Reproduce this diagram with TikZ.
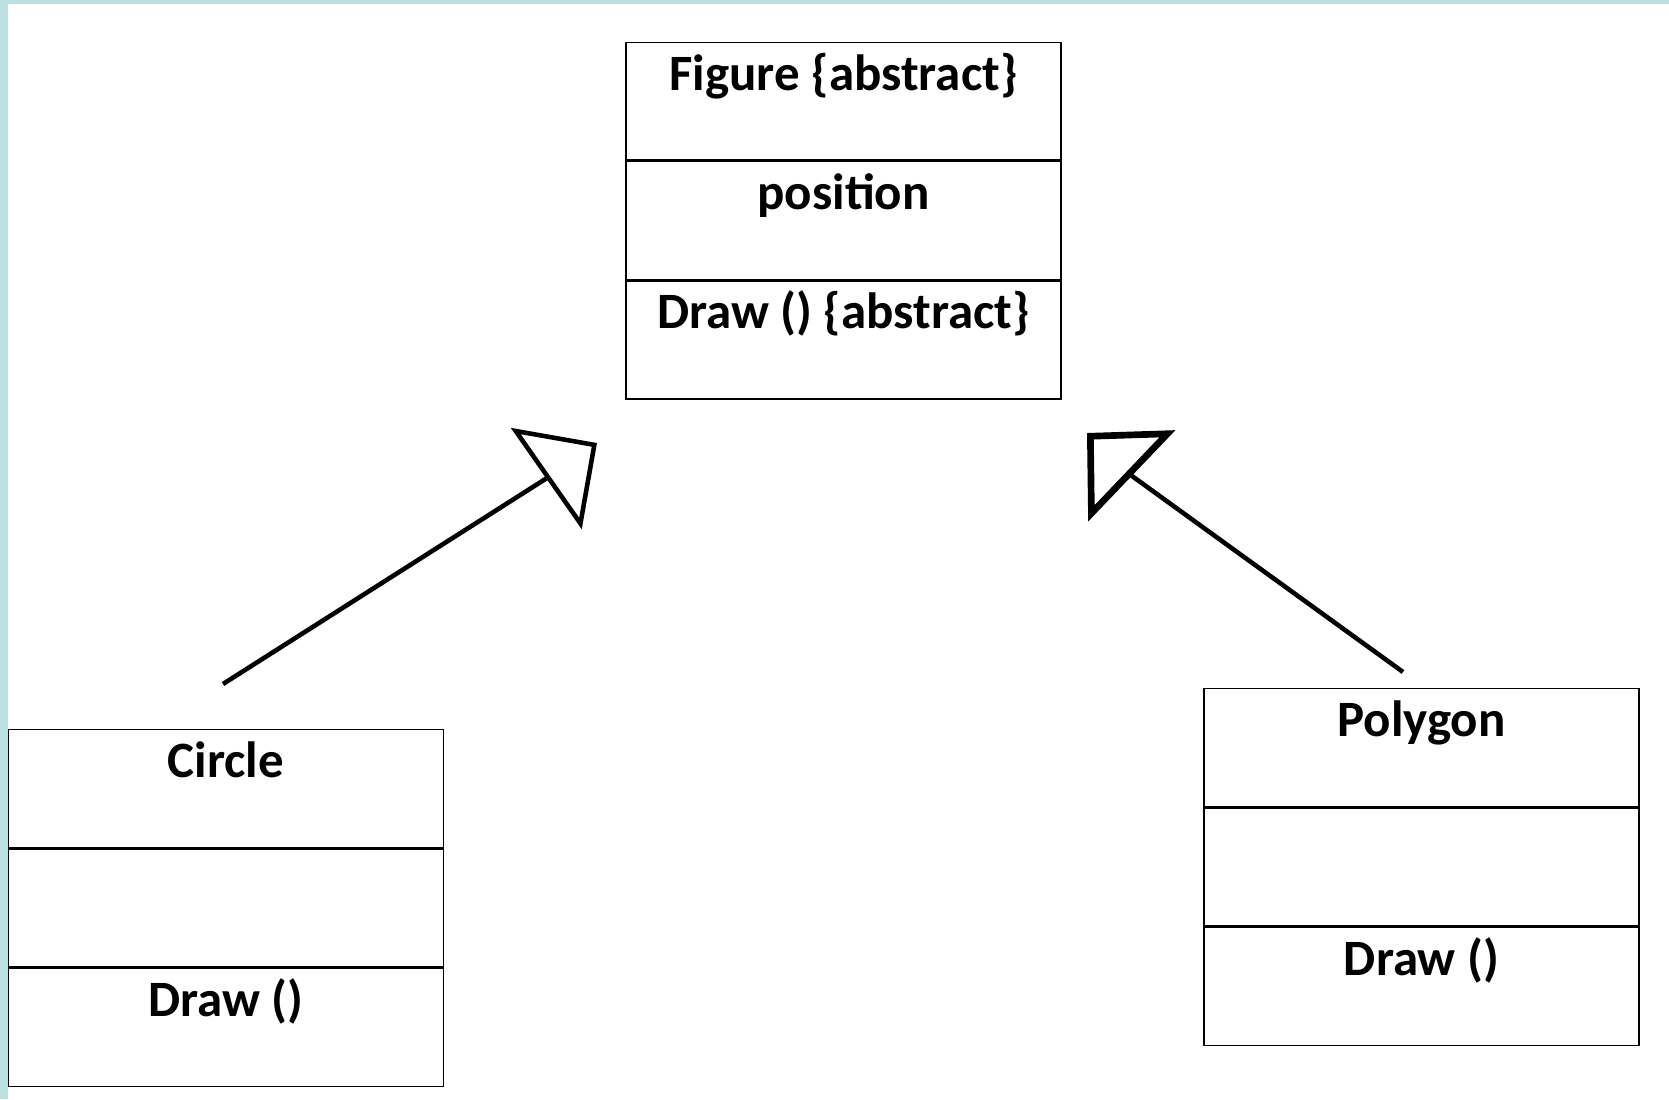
\documentclass[tikz,border=0pt]{standalone}
\usepackage{fontspec}
\setmainfont{Carlito}
\usetikzlibrary{arrows.meta,positioning}
\definecolor{framecyan}{HTML}{BDE0E3}

\tikzset{
  cell/.style={draw, line width=0.8pt, inner sep=0pt, minimum width=8.7cm,
    text height=0.96cm, text depth=1.4cm, anchor=north,
    font=\fontsize{29}{34}\selectfont\bfseries},
  generalization/.style={line width=2.6pt,
    -{Triangle[open,length=1.24cm,width=2.46cm]}},
}

\begin{document}
\begin{tikzpicture}[line join=miter,x=0.02cm,y=-0.02cm]
  \useasboundingbox (0,0) rectangle (1669,1099);
  % frame
  \fill[framecyan] (0,0) rectangle (1669,1099);
  \fill[white] (8,4) rectangle (1669,1099);

  % base class
  \node[cell] (fig-name) at (843.5,41.5) {Figure \{abstract\}};
  \node[cell,below=0pt of fig-name] (fig-attr) {position};
  \node[cell,below=0pt of fig-attr] (fig-op) {Draw () \{abstract\}};

  % subclasses
  \node[cell] (circ-name) at (226,729) {Circle};
  \node[cell,below=0pt of circ-name] (circ-attr) {};
  \node[cell,below=0pt of circ-attr] (circ-op) {Draw ()};

  \node[cell] (poly-name) at (1421.5,688) {Polygon};
  \node[cell,below=0pt of poly-name] (poly-attr) {};
  \node[cell,below=0pt of poly-attr] (poly-op) {Draw ()};

  % inheritance
  \coordinate (circ-tail) at (223,684);
  \coordinate (circ-bend) at (547,478);
  \coordinate (fig-left) at (597,443);
  \coordinate (poly-tail) at (1403,672);
  \coordinate (poly-bend) at (1132,476);
  \coordinate (fig-right) at (1087,433);
  \draw[generalization] (circ-tail) -- (circ-bend) -- (fig-left);
  \draw[generalization,-{Triangle[open,length=1.24cm,width=2.5cm,line width=3.8pt]}]
    (poly-tail) -- (poly-bend) -- (fig-right);
\end{tikzpicture}
\end{document}
